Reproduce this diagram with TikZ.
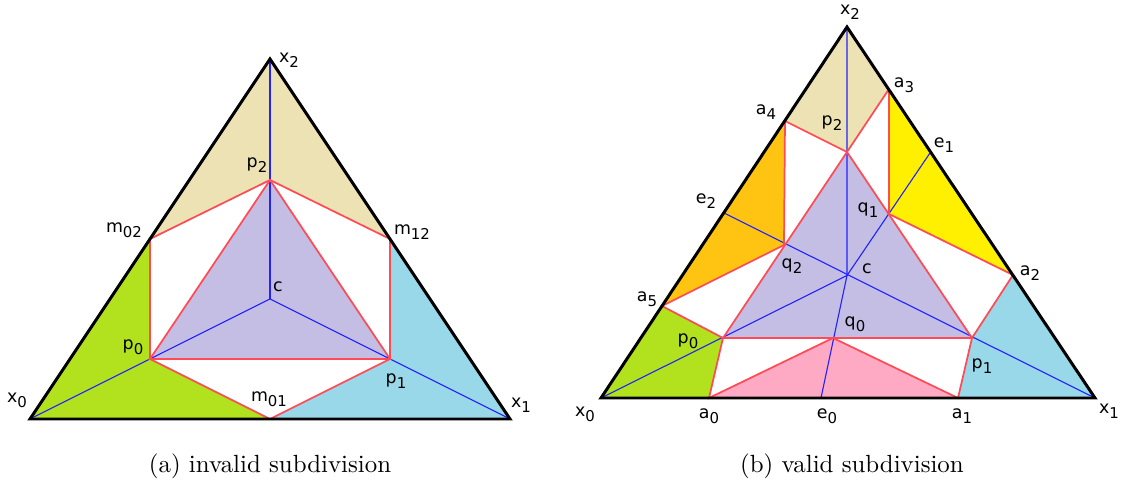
\documentclass[tikz,border=0pt]{standalone}
\usepackage{fontspec}
\newfontfamily\lblfont{DejaVu Sans}
\newcommand\vlab[2]{{\lblfont\fontsize{7}{8}\selectfont #1\raisebox{-0.55ex}{\fontsize{6}{6}\selectfont #2}}}
\definecolor{tanfill}{RGB}{236,226,180}
\definecolor{greenfill}{RGB}{178,226,30}
\definecolor{bluefill}{RGB}{152,216,232}
\definecolor{lavfill}{RGB}{197,190,228}
\definecolor{orangefill}{RGB}{255,196,18}
\definecolor{yellowfill}{RGB}{255,240,0}
\definecolor{pinkfill}{RGB}{255,170,196}
\definecolor{cutred}{RGB}{255,75,85}
\definecolor{medblue}{RGB}{35,35,255}
\begin{document}
\begin{tikzpicture}[x=0.01413cm,y=-0.01413cm,
  outline/.style={line width=1.2pt,black},
  cut/.style={line width=0.7pt,cutred},
  median/.style={line width=0.45pt,medblue},
  lbl/.style={inner sep=0pt}]
  \useasboundingbox (0,0) rectangle (1123,486);
  % (a) invalid subdivision
  \coordinate (lx0) at (30,419);
  \coordinate (lx1) at (510,419);
  \coordinate (lx2) at (270,59);
  \coordinate (lc) at (270,299);
  \coordinate (lp0) at (150,359);
  \coordinate (lp1) at (390,359);
  \coordinate (lp2) at (270,180);
  \coordinate (lm01) at (270,419);
  \coordinate (lm02) at (150,239);
  \coordinate (lm12) at (390,239);
  \fill[tanfill] (lx2) -- (lm12) -- (lp2) -- (lm02) -- cycle;
  \fill[greenfill] (lx0) -- (lm02) -- (lp0) -- (lm01) -- cycle;
  \fill[bluefill] (lx1) -- (lm12) -- (lp1) -- (lm01) -- cycle;
  \fill[lavfill] (lp0) -- (lp1) -- (lp2) -- cycle;
  \draw[median] (lx0) -- (lc);
  \draw[median] (lx1) -- (lc);
  \draw[median] (lx2) -- (lc);
  \draw[cut] (lm02) -- (lp2) -- (lm12) -- (lp1) -- (lm01) -- (lp0) -- cycle;
  \draw[cut] (lp0) -- (lp1) -- (lp2) -- cycle;
  \draw[outline] (lx0) -- (lx1) -- (lx2) -- cycle;
  \node[lbl] (lx0l) at (17,400) {\vlab{x}{0}};
  \node[lbl] (lx1l) at (521,405) {\vlab{x}{1}};
  \node[lbl] (lx2l) at (289,60) {\vlab{x}{2}};
  \node[lbl] (lp0l) at (133,347) {\vlab{p}{0}};
  \node[lbl] (lp1l) at (396,381) {\vlab{p}{1}};
  \node[lbl] (lp2l) at (257,165) {\vlab{p}{2}};
  \node[lbl] (lcl) at (278,289) {\vlab{c}{}};
  \node[lbl] (lm01l) at (269,399) {\vlab{m}{01}};
  \node[lbl] (lm02l) at (124,230) {\vlab{m}{02}};
  \node[lbl] (lm12l) at (412,232) {\vlab{m}{12}};
  \node (capa) at (270,466) {(a) invalid subdivision};
  % (b) valid subdivision
  \coordinate (rx0) at (601,398);
  \coordinate (rx1) at (1095,398);
  \coordinate (rx2) at (847,27);
  \coordinate (rc) at (847,275.5);
  \coordinate (rp0) at (723,338);
  \coordinate (rp1) at (972,338);
  \coordinate (rp2) at (847,152);
  \coordinate (rq0) at (833,338);
  \coordinate (rq1) at (889,214);
  \coordinate (rq2) at (784,245);
  \coordinate (ra0) at (709,398);
  \coordinate (ra1) at (958,398);
  \coordinate (ra2) at (1013,275);
  \coordinate (ra3) at (889,89);
  \coordinate (ra4) at (785,121);
  \coordinate (ra5) at (662,306);
  \coordinate (re0) at (821,398);
  \coordinate (re1) at (930,153);
  \coordinate (re2) at (724,213);
  \fill[tanfill] (rx2) -- (ra3) -- (rp2) -- (ra4) -- cycle;
  \fill[orangefill] (ra4) -- (rq2) -- (ra5) -- cycle;
  \fill[yellowfill] (ra3) -- (ra2) -- (rq1) -- cycle;
  \fill[greenfill] (rx0) -- (ra5) -- (rp0) -- (ra0) -- cycle;
  \fill[bluefill] (rx1) -- (ra2) -- (rp1) -- (ra1) -- cycle;
  \fill[pinkfill] (ra0) -- (rq0) -- (ra1) -- cycle;
  \fill[lavfill] (rp0) -- (rp1) -- (rp2) -- cycle;
  \draw[median] (rx0) -- (rc) -- (re1);
  \draw[median] (rx1) -- (re2);
  \draw[median] (rx2) -- (rc) -- (re0);
  \draw[cut] (rp0) -- (rp1) -- (rp2) -- cycle;
  \draw[cut] (ra4) -- (rp2) -- (ra3);
  \draw[cut] (ra4) -- (rq2) -- (ra5) -- (rp0) -- (ra0) -- (rq0) -- (ra1) -- (rp1) -- (ra2) -- (rq1) -- (ra3);
  \draw[outline] (rx0) -- (rx1) -- (rx2) -- cycle;
  \node[lbl] (rx0l) at (585,414) {\vlab{x}{0}};
  \node[lbl] (rx1l) at (1109,411) {\vlab{x}{1}};
  \node[lbl] (rx2l) at (850,12) {\vlab{x}{2}};
  \node[lbl] (rp0l) at (688,341) {\vlab{p}{0}};
  \node[lbl] (rp1l) at (982,366) {\vlab{p}{1}};
  \node[lbl] (rp2l) at (832,123) {\vlab{p}{2}};
  \node[lbl] (rq0l) at (855,324) {\vlab{q}{0}};
  \node[lbl] (rq1l) at (868,210) {\vlab{q}{1}};
  \node[lbl] (rq2l) at (792,266) {\vlab{q}{2}};
  \node[lbl] (rcl) at (867,271) {\vlab{c}{}};
  \node[lbl] (ra0l) at (709,416) {\vlab{a}{0}};
  \node[lbl] (ra1l) at (962,416) {\vlab{a}{1}};
  \node[lbl] (ra2l) at (1030,273) {\vlab{a}{2}};
  \node[lbl] (ra3l) at (904,85) {\vlab{a}{3}};
  \node[lbl] (ra4l) at (766,112) {\vlab{a}{4}};
  \node[lbl] (ra5l) at (647,299) {\vlab{a}{5}};
  \node[lbl] (re0l) at (827,416) {\vlab{e}{0}};
  \node[lbl] (re1l) at (944,145) {\vlab{e}{1}};
  \node[lbl] (re2l) at (706,201) {\vlab{e}{2}};
  \node (capb) at (852,466) {(b) valid subdivision};
\end{tikzpicture}
\end{document}
